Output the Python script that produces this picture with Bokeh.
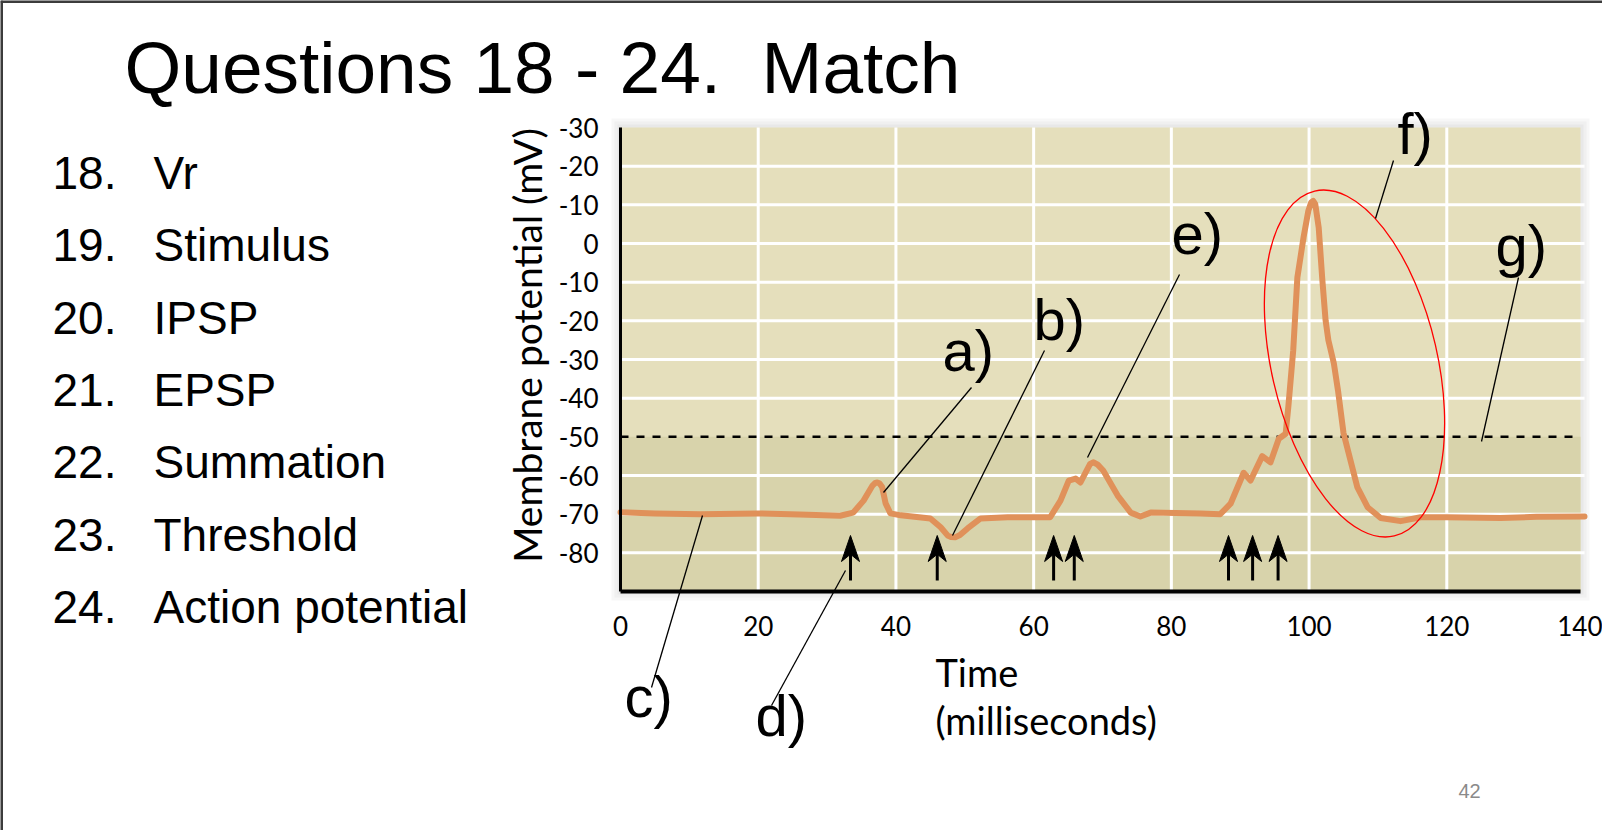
import math
from bokeh.plotting import figure
from bokeh.models import Range1d, FixedTicker, Label, LinearAxis
from bokeh.embed import file_html
from bokeh.resources import INLINE

# ---------------- data ----------------
TIME_MS = [0, 5, 11.6, 20, 26, 31.9, 33.8, 35.3, 36.6, 37.0, 37.3, 37.6, 38.0, 38.5, 39.2, 40.7,
           45, 46.5, 47.5, 48.0, 48.6, 49.3, 50.4, 52.3, 56.2, 62.4, 63.9, 65.1, 66.1, 66.8,
           68.2, 68.7, 69.3, 70.1, 72.2, 74.1, 75.5, 77, 84.2, 87.1, 88.6, 90.5, 91.5, 93.2,
           94.4, 95.6, 96.6, 97.0, 97.7, 98.3, 99.2, 99.9, 100.3, 100.6, 100.9, 101.4, 101.9,
           102.4, 102.8, 103.6, 104.2, 105, 106, 107, 108.5, 110.4, 113.3, 116.2, 120, 127.8,
           133, 140]
POTENTIAL_MV = [-69.5, -69.8, -70.0, -69.8, -70.1, -70.4, -69.6, -66.5, -62.6, -61.9, -61.8,
                -62.0, -63.0, -67.2, -69.8, -70.3, -71.1, -73.4, -75.5, -75.9, -76.0, -75.4,
                -73.7, -71.1, -70.8, -70.8, -66.5, -61.3, -60.8, -61.8, -57.0, -56.6, -57.2,
                -58.7, -65.2, -69.6, -70.6, -69.6, -69.8, -70.0, -67.3, -59.3, -61.3, -55.0,
                -56.6, -50.5, -49.2, -42.0, -27.6, -8.8, 1.6, 8.5, 10.6, 11.0, 10.2, 4.1, -8.8,
                -19.9, -25.0, -31.0, -38.0, -49.0, -56.0, -63.0, -68.2, -71.0, -71.8, -70.8,
                -70.8, -71.0, -70.7, -70.6]
STIMULUS_MS = [33.4, 46.0, 62.9, 65.9, 88.3, 91.8, 95.5]
THRESHOLD_MV = -50
X_TICKS = [0, 20, 40, 60, 80, 100, 120, 140]
Y_TICKS = [30, 20, 10, 0, -10, -20, -30, -40, -50, -60, -70, -80]
Y_TICK_LABELS = ["-30", "-20", "-10", "0", "-10", "-20", "-30", "-40", "-50", "-60", "-70", "-80"]
Q_NUMBERS = ["18.", "19.", "20.", "21.", "22.", "23.", "24."]
Q_TEXTS = ["Vr", "Stimulus", "IPSP", "EPSP", "Summation", "Threshold", "Action potential"]

# ---------------- layout (pixels) ----------------
W, H = 1602, 830
FL, FR, FT, FB = 620, 1584, 127, 591          # chart area on the page
X0, X1 = 0, 140
Y0, Y1 = -90, 30
SX = (FR - FL) / (X1 - X0)                    # px per ms
SY = (FB - FT) / (Y1 - Y0)                    # px per mV
XS = X0 - FL / SX
XE = XS + W / SX
YE = Y1 + FT / SY
YS = YE - H / SY


def dx(px):
    return XS + px / SX


def dy(py):
    return YE - py / SY


p = figure(width=W, height=H, x_range=Range1d(XS, XE), y_range=Range1d(YS, YE),
           output_backend="svg", toolbar_location=None,
           x_axis_location=None, y_axis_location=None, min_border=0)
p.title.visible = False
p.xgrid.visible = False
p.ygrid.visible = False
p.background_fill_color = "white"
p.border_fill_color = "white"
p.outline_line_color = None

# soft shadow around chart area
for grow, col in [(9, "#F7F7F7"), (6, "#F0F0F0"), (3, "#E8E8E8")]:
    p.quad(left=X0 - grow / SX, right=X1 + grow / SX - 4 / SX, bottom=Y0 - grow / SY,
           top=Y1 + grow / SY, fill_color=col, line_color=None)

# chart background and below-threshold band
p.quad(left=X0, right=X1 - 4 / SX, bottom=Y0, top=Y1, fill_color="#E5DFBC", line_color=None)
p.quad(left=X0, right=X1 - 4 / SX, bottom=Y0, top=THRESHOLD_MV, fill_color="#D8D3AB",
       line_color=None)

# grid lines
gx = [t for t in X_TICKS if X0 < t < X1]
p.segment(x0=gx, y0=[Y0] * len(gx), x1=gx, y1=[Y1] * len(gx), line_color="white", line_width=3)
gy = [t for t in Y_TICKS if Y0 < t < Y1 and t != THRESHOLD_MV]
p.segment(x0=[X0] * len(gy), y0=gy, x1=[X1] * len(gy), y1=gy, line_color="white", line_width=3)

# threshold dashed line
p.segment(x0=[X0], y0=[THRESHOLD_MV], x1=[X1 - 9 / SX], y1=[THRESHOLD_MV],
          line_color="black", line_width=2.5, line_dash="8 8")

# membrane potential trace
p.line(TIME_MS, POTENTIAL_MV, line_width=6, line_color="#E0915A",
       line_join="round", line_cap="round")

# stimulus arrows
base_y = dy(580)
tip_y = dy(535)
head_len = 26 / SY
head_half = 9 / SX
n = len(STIMULUS_MS)
p.segment(x0=STIMULUS_MS, y0=[base_y] * n, x1=STIMULUS_MS, y1=[tip_y - head_len * 0.6] * n,
          line_color="black", line_width=3)
xs = [[t, t - head_half, t, t + head_half] for t in STIMULUS_MS]
ys = [[tip_y, tip_y - head_len, tip_y - head_len * 0.72, tip_y - head_len] for t in STIMULUS_MS]
p.patches(xs, ys, fill_color="black", line_color="black", line_width=1)

# red ellipse around the action potential
p.ellipse(x=dx(1354), y=dy(363), width=166, height=354, angle=math.radians(13),
          width_units="screen", height_units="screen",
          fill_color=None, line_color="red", line_width=1.3)

# axes (drawn at the chart edges)
yaxis = LinearAxis(fixed_location=X0, bounds=(Y0, Y1), ticker=FixedTicker(ticks=Y_TICKS),
                   major_label_overrides={t: s for t, s in zip(Y_TICKS, Y_TICK_LABELS)})
xaxis = LinearAxis(fixed_location=Y0, bounds=(X0, X1 - 4 / SX), ticker=FixedTicker(ticks=X_TICKS))
for ax, lw, st in [(yaxis, 3, 16), (xaxis, 4, 18)]:
    ax.axis_line_color = "black"
    ax.axis_line_width = lw
    ax.major_tick_line_color = None
    ax.minor_tick_line_color = None
    ax.major_label_text_font = "Lato"
    ax.major_label_text_font_size = "26px"
    ax.major_label_text_color = "black"
    ax.major_label_standoff = st
p.add_layout(yaxis, "left")
p.add_layout(xaxis, "below")


# ---------------- annotations ----------------
def add_line(x0, y0, x1, y1, w=1.3, color="black"):
    p.segment(x0=[dx(x0)], y0=[dy(y0)], x1=[dx(x1)], y1=[dy(y1)], line_width=w, line_color=color)


def add_text(px, py, text, size, font="Liberation Sans", color="black", align="left",
             baseline="alphabetic", angle=0):
    if baseline == "alphabetic":
        py = py - 0.34 * size
    p.add_layout(Label(x=dx(px), y=dy(py), text=text, text_font=font,
                       text_font_size=f"{size}px", text_color=color, text_align=align,
                       text_baseline=baseline, angle=angle))


# slide border
add_line(0, 1, W, 1, w=3, color="#3C3C3C")
add_line(1, 0, 1, H, w=3, color="#3C3C3C")

# title
add_text(124, 92, "Questions 18 - 24.\u00a0 Match", 73)

# question list
for i, (num, txt) in enumerate(zip(Q_NUMBERS, Q_TEXTS)):
    yb = 188 + i * 72.4
    add_text(52, yb, num, 46)
    add_text(153, yb, txt, 46)

# axis titles
add_text(526, 345, "Membrane potential (mV)", 39, font="Lato", align="center",
         baseline="middle", angle=math.pi / 2)
add_text(935, 684, "Time", 38, font="Lato")
add_text(935, 732, "(milliseconds)", 38, font="Lato")

# page number
add_text(1458, 797, "42", 20, color="#8A8A8A")

# letter labels and leader lines
add_text(942, 370, "a)", 58)
add_line(971, 387, 883, 492)
add_text(1033, 339, "b)", 58)
add_line(1044, 350, 952, 535)
add_text(624, 716, "c)", 58)
add_line(702, 515, 651, 687)
add_text(755, 735, "d)", 58)
add_line(845, 570, 771, 705)
add_text(1171, 253, "e)", 58)
add_line(1179, 274, 1087, 457)
add_text(1397, 153, "f)", 58)
add_line(1393, 160, 1375, 218)
add_text(1495, 265, "g)", 58)
add_line(1518, 277, 1481, 441)

open("out.html", "w").write(file_html(p, INLINE))
